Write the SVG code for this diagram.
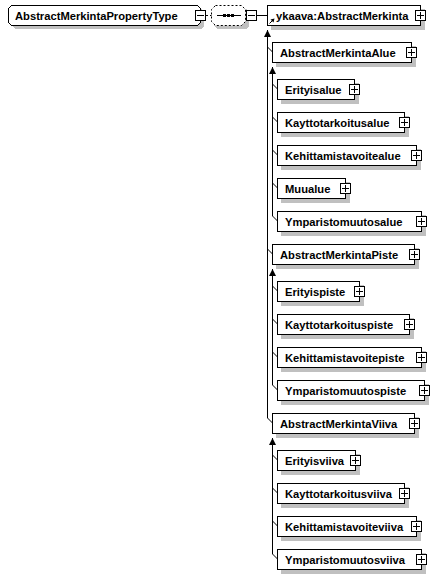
<svg xmlns="http://www.w3.org/2000/svg" xmlns:xlink="http://www.w3.org/1999/xlink" width="440" height="579" viewBox="0 0 440 579">
<style>
.box{fill:#fff;stroke:#000;stroke-width:1;shape-rendering:crispEdges}
.sh{fill:#c0c0c0;shape-rendering:crispEdges}
.t{font-family:"Liberation Sans",Arial,sans-serif;font-size:11.2px;font-weight:bold;fill:#000}
.ln{fill:none;stroke:#000;stroke-width:1}
.cr{shape-rendering:crispEdges}
</style>
<defs>
<g id="plus"><rect x="-5" y="-5" width="10" height="10" fill="#fff" stroke="#000" shape-rendering="crispEdges"/><path d="M-3.5 0H3.5M0 -3.5V3.5" stroke="#000" shape-rendering="crispEdges"/></g>
<g id="minus"><rect x="-5" y="-5" width="10" height="10" fill="#fff" stroke="#000" shape-rendering="crispEdges"/><path d="M-3.5 0H3.5" stroke="#000" shape-rendering="crispEdges"/></g>
<marker id="arr" markerUnits="userSpaceOnUse" markerWidth="7" markerHeight="7" viewBox="0 0 6 6" refX="6" refY="3" orient="auto"><path d="M0 0L6 3L0 6Z" fill="#000"/></marker>
</defs>

<g id="connectors">
<path class="ln cr" stroke-dasharray="2,2" d="M205.5 15.5H211.5"/>
<path class="ln cr" d="M256.5 15.5H267.5"/>
<path class="ln cr" d="M267.5 418V30" marker-end="url(#arr)"/>
<path class="ln" d="M267.5 47L272.5 52M267.5 249L272.5 254M267.5 418L272.5 423"/>
<path class="ln cr" d="M272.5 216V67" marker-end="url(#arr)"/>
<path class="ln" d="M272.5 84L277.5 89M272.5 117L277.5 122M272.5 150L277.5 155M272.5 183L277.5 188M272.5 216L277.5 221"/>
<path class="ln cr" d="M272.5 385V269" marker-end="url(#arr)"/>
<path class="ln" d="M272.5 286L277.5 291M272.5 319L277.5 324M272.5 352L277.5 357M272.5 385L277.5 390"/>
<path class="ln cr" d="M272.5 554V438" marker-end="url(#arr)"/>
<path class="ln" d="M272.5 455L277.5 460M272.5 488L277.5 493M272.5 521L277.5 526M272.5 554L277.5 559"/>
</g>

<g id="root">
<path class="sh" d="M15 9H201L204 12V26L201 29H15L12 26V12Z"/>
<path class="box" d="M11.5 5.5H197.5L200.5 8.5V22.5L197.5 25.5H11.5L8.5 22.5V8.5Z"/>
<text class="t" x="15" y="20">AbstractMerkintaPropertyType</text>
<use href="#minus" x="200.5" y="15.5"/>
</g>

<g id="sequence">
<path class="sh" d="M217 9H246L249 12V26L246 29H217L214 26V12Z"/>
<path d="M215.5 5.5H241.5L245.5 9.5V21.5L241.5 25.5H215.5L211.5 21.5V9.5Z" fill="#fff" stroke="#000" stroke-dasharray="2,2"/>
<path class="ln cr" d="M217 15.5H241"/>
<rect x="223" y="14" width="3" height="3" fill="#000"/>
<rect x="227" y="14" width="3" height="3" fill="#000"/>
<rect x="231" y="14" width="3" height="3" fill="#000"/>
<use href="#minus" x="251.5" y="15.5"/>
</g>

<g id="n-ykaava">
<rect class="sh" x="271" y="9" width="154" height="21"/>
<rect class="box" x="267.5" y="5.5" width="153" height="20"/>
<text class="t" x="276" y="20">ykaava:AbstractMerkinta</text>
<path class="ln" d="M269.5 23.5L272.5 20.5"/>
<path d="M274.5 18.5L270.5 19.5L273.5 22.5Z" fill="#000"/>
<use href="#plus" x="420.5" y="15.5"/>
</g>

<g id="n-AbstractMerkintaAlue">
<rect class="sh" x="276" y="46" width="140" height="21"/>
<rect class="box" x="272.5" y="42.5" width="139" height="20"/>
<text class="t" x="280" y="57">AbstractMerkintaAlue</text>
<use href="#plus" x="411.5" y="52.5"/>
</g>
<g id="n-Erityisalue">
<rect class="sh" x="281" y="83" width="78" height="21"/>
<rect class="box" x="277.5" y="79.5" width="77" height="20"/>
<text class="t" x="285" y="94">Erityisalue</text>
<use href="#plus" x="354.5" y="89.5"/>
</g>
<g id="n-Kayttotarkoitusalue">
<rect class="sh" x="281" y="116" width="128" height="21"/>
<rect class="box" x="277.5" y="112.5" width="127" height="20"/>
<text class="t" x="285" y="127">Kayttotarkoitusalue</text>
<use href="#plus" x="404.5" y="122.5"/>
</g>
<g id="n-Kehittamistavoitealue">
<rect class="sh" x="281" y="149" width="140" height="21"/>
<rect class="box" x="277.5" y="145.5" width="139" height="20"/>
<text class="t" x="285" y="160">Kehittamistavoitealue</text>
<use href="#plus" x="416.5" y="155.5"/>
</g>
<g id="n-Muualue">
<rect class="sh" x="281" y="182" width="69" height="21"/>
<rect class="box" x="277.5" y="178.5" width="68" height="20"/>
<text class="t" x="285" y="193">Muualue</text>
<use href="#plus" x="345.5" y="188.5"/>
</g>
<g id="n-Ymparistomuutosalue">
<rect class="sh" x="281" y="215" width="145" height="21"/>
<rect class="box" x="277.5" y="211.5" width="144" height="20"/>
<text class="t" x="285" y="226">Ymparistomuutosalue</text>
<use href="#plus" x="421.5" y="221.5"/>
</g>

<g id="n-AbstractMerkintaPiste">
<rect class="sh" x="276" y="248" width="143" height="21"/>
<rect class="box" x="272.5" y="244.5" width="142" height="20"/>
<text class="t" x="280" y="259">AbstractMerkintaPiste</text>
<use href="#plus" x="414.5" y="254.5"/>
</g>
<g id="n-Erityispiste">
<rect class="sh" x="281" y="285" width="83" height="21"/>
<rect class="box" x="277.5" y="281.5" width="82" height="20"/>
<text class="t" x="285" y="296">Erityispiste</text>
<use href="#plus" x="359.5" y="291.5"/>
</g>
<g id="n-Kayttotarkoituspiste">
<rect class="sh" x="281" y="318" width="133" height="21"/>
<rect class="box" x="277.5" y="314.5" width="132" height="20"/>
<text class="t" x="285" y="329">Kayttotarkoituspiste</text>
<use href="#plus" x="409.5" y="324.5"/>
</g>
<g id="n-Kehittamistavoitepiste">
<rect class="sh" x="281" y="351" width="145" height="21"/>
<rect class="box" x="277.5" y="347.5" width="144" height="20"/>
<text class="t" x="285" y="362">Kehittamistavoitepiste</text>
<use href="#plus" x="421.5" y="357.5"/>
</g>
<g id="n-Ymparistomuutospiste">
<rect class="sh" x="281" y="384" width="148" height="21"/>
<rect class="box" x="277.5" y="380.5" width="147" height="20"/>
<text class="t" x="285" y="395">Ymparistomuutospiste</text>
<use href="#plus" x="424.5" y="390.5"/>
</g>

<g id="n-AbstractMerkintaViiva">
<rect class="sh" x="276" y="417" width="143" height="21"/>
<rect class="box" x="272.5" y="413.5" width="142" height="20"/>
<text class="t" x="280" y="428">AbstractMerkintaViiva</text>
<use href="#plus" x="414.5" y="423.5"/>
</g>
<g id="n-Erityisviiva">
<rect class="sh" x="281" y="454" width="79" height="21"/>
<rect class="box" x="277.5" y="450.5" width="78" height="20"/>
<text class="t" x="285" y="465">Erityisviiva</text>
<use href="#plus" x="355.5" y="460.5"/>
</g>
<g id="n-Kayttotarkoitusviiva">
<rect class="sh" x="281" y="487" width="128" height="21"/>
<rect class="box" x="277.5" y="483.5" width="127" height="20"/>
<text class="t" x="285" y="498">Kayttotarkoitusviiva</text>
<use href="#plus" x="404.5" y="493.5"/>
</g>
<g id="n-Kehittamistavoiteviiva">
<rect class="sh" x="281" y="520" width="140" height="21"/>
<rect class="box" x="277.5" y="516.5" width="139" height="20"/>
<text class="t" x="285" y="531">Kehittamistavoiteviiva</text>
<use href="#plus" x="416.5" y="526.5"/>
</g>
<g id="n-Ymparistomuutosviiva">
<rect class="sh" x="281" y="553" width="145" height="21"/>
<rect class="box" x="277.5" y="549.5" width="144" height="20"/>
<text class="t" x="285" y="564">Ymparistomuutosviiva</text>
<use href="#plus" x="421.5" y="559.5"/>
</g>
</svg>
